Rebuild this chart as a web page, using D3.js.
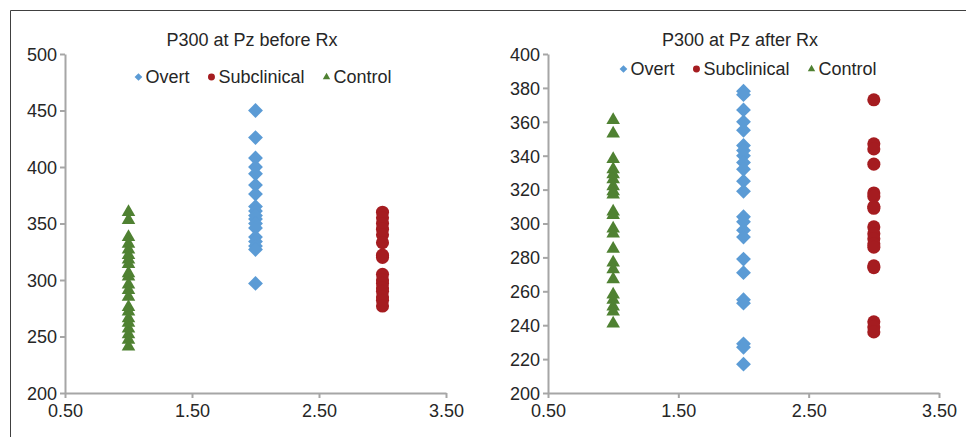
<!DOCTYPE html>
<html>
<head>
<meta charset="utf-8">
<script src="https://cdn.jsdelivr.net/npm/d3@7"></script>
<style>
  body { margin: 0; background: #fff; }
  svg { display: block; font-family: "Liberation Sans", Arial, sans-serif; }
  .axis path, .axis line { stroke: #a6a6a6; stroke-width: 2; }
  .axis text { fill: #262626; font-size: 18px; }
</style>
</head>
<body>
<script>
// group x positions
const groupX = { Control: 1, Overt: 2, Subclinical: 3 };
const seriesNames = ["Overt", "Subclinical", "Control"];

// before treatment
const overtBefore = [450, 426, 408, 400, 394, 384, 376, 365, 361, 357, 354, 350, 346, 338, 334, 330, 327, 297];
const subBefore = [360, 355, 350, 345, 340, 333, 322, 320, 305, 300, 297, 293, 290, 285, 282, 277];
const ctrlBefore = [360, 353, 338, 332, 327, 322, 318, 314, 306, 303, 296, 291, 285, 276, 272, 266, 262, 257, 252, 247, 241];

// after treatment
const overtAfter = [378, 376, 367, 360, 355, 346, 343, 340, 336, 332, 325, 319, 304, 301, 296, 292, 279, 271, 255, 253, 229, 227, 217];
const subAfter = [373, 347, 344, 335, 318, 316, 310, 309, 298, 294, 291, 288, 286, 275, 274, 242, 239, 236];
const ctrlAfter = [361, 353, 338, 332, 329, 326, 322, 319, 317, 307, 305, 297, 294, 285, 277, 273, 267, 258, 255, 251, 248, 241];

const xTicks = [0.5, 1.5, 2.5, 3.5];
const yTicksBefore = [200, 250, 300, 350, 400, 450, 500];
const yTicksAfter = [200, 220, 240, 260, 280, 300, 320, 340, 360, 380, 400];

const colors = { Overt: "#5b9bd5", Subclinical: "#a51c20", Control: "#4f8132" };

const W = 966, H = 437;
const svg = d3.select("body").append("svg").attr("width", W).attr("height", H);

// outer frame (top + left only visible)
svg.append("line").attr("x1", 10.5).attr("x2", W).attr("y1", 10.5).attr("y2", 10.5).attr("stroke", "#404040");
svg.append("line").attr("x1", 10.5).attr("x2", 10.5).attr("y1", 10.5).attr("y2", H).attr("stroke", "#404040");

const markerPath = (name, big) => {
  if (name === "Overt") return d3.symbol(d3.symbolSquare, big ? 110 : 30)();
  if (name === "Subclinical") return d3.symbol(d3.symbolCircle, big ? 135 : 38)();
  return d3.symbol(d3.symbolTriangle, big ? 80 : 24)();
};
const markerRotate = (name) => (name === "Overt" ? 45 : 0);

const drawPanel = (p) => {
  const xScale = d3.scaleLinear().domain([0.5, 3.5]).range([p.x0, p.x1]);
  const yScale = d3.scaleLinear().domain(p.yDomain).range([p.yBottom, p.yTop]);

  const g = svg.append("g");

  g.append("g")
    .attr("class", "axis")
    .attr("transform", `translate(0, ${p.yBottom})`)
    .call(d3.axisBottom(xScale).tickValues(xTicks).tickFormat(d3.format(".2f")).tickSize(5).tickSizeOuter(0).tickPadding(4));

  g.append("g")
    .attr("class", "axis")
    .attr("transform", `translate(${p.x0}, 0)`)
    .call(d3.axisLeft(yScale).tickValues(p.yTicks).tickSize(5).tickSizeOuter(0).tickPadding(3));

  g.selectAll(".axis text").attr("dy", null);
  g.selectAll(".axis .tick text").each(function () {
    const t = d3.select(this);
    if (t.attr("x") && +t.attr("x") < 0) t.attr("dy", "0.35em");
    else t.attr("dy", "0.85em");
  });

  // series points
  const series = seriesNames.map((name) => ({ name, values: p.data[name] }));
  series.forEach((s) => {
    g.append("g")
      .selectAll("path")
      .data(s.values)
      .enter()
      .append("path")
      .attr("d", markerPath(s.name, true))
      .attr("transform", (d) => `translate(${xScale(groupX[s.name])}, ${yScale(d)}) rotate(${markerRotate(s.name)})`)
      .attr("fill", colors[s.name]);
  });

  // title
  g.append("text")
    .attr("x", p.titleX)
    .attr("y", p.titleY)
    .attr("text-anchor", "middle")
    .style("font-size", "18px")
    .style("fill", "#262626")
    .text(p.title);

  // legend
  const leg = g.append("g");
  let cx = 0;
  seriesNames.forEach((name) => {
    const item = leg.append("g").attr("transform", `translate(${cx}, 0)`);
    item.append("path")
      .attr("d", markerPath(name, false))
      .attr("transform", `translate(4, 0) rotate(${markerRotate(name)})`)
      .attr("fill", colors[name]);
    const t = item.append("text")
      .attr("x", 11)
      .attr("dy", "0.35em")
      .style("font-size", "18px")
      .style("fill", "#262626")
      .text(name);
    cx += 11 + t.node().getComputedTextLength() + 18;
  });
  const legW = cx - 18;
  leg.attr("transform", `translate(${p.legendCX - legW / 2}, ${p.legendY})`);
};

drawPanel({
  x0: 65, x1: 446, yTop: 54, yBottom: 393,
  yDomain: [200, 500], yTicks: yTicksBefore,
  data: { Overt: overtBefore, Subclinical: subBefore, Control: ctrlBefore },
  title: "P300 at Pz before Rx", titleX: 252, titleY: 46,
  legendCX: 263, legendY: 77,
});

drawPanel({
  x0: 548, x1: 939, yTop: 54, yBottom: 393,
  yDomain: [200, 400], yTicks: yTicksAfter,
  data: { Overt: overtAfter, Subclinical: subAfter, Control: ctrlAfter },
  title: "P300 at Pz after Rx", titleX: 740, titleY: 46,
  legendCX: 748, legendY: 69,
});
</script>
</body>
</html>
